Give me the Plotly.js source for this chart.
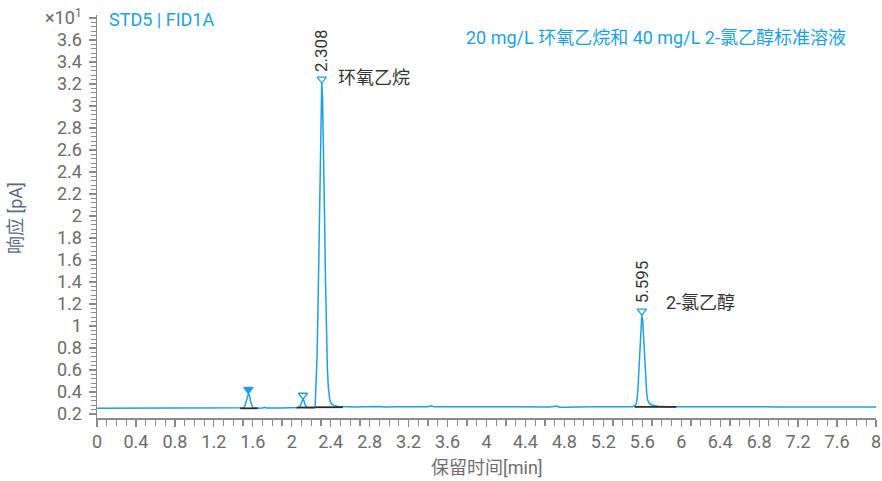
<!DOCTYPE html>
<html>
<head>
<meta charset="utf-8">
<script src="https://cdn.plot.ly/plotly-3.0.1.min.js"></script>
<style>html,body{margin:0;padding:0;background:#fff}#chart{width:882px;height:481px}</style>
</head>
<body>
<div id="chart"></div>
<script>
// Retention time [min]
const time = [0,0.5,1.0,1.45,1.49,1.51,1.53,1.545,1.555,1.565,1.58,1.60,1.63,1.67,1.70,1.72,1.74,1.78,1.82,1.88,1.95,2.02,2.07,2.09,2.105,2.115,2.125,2.14,2.16,2.19,2.22,2.24,2.25,2.26,2.27,2.28,2.29,2.30,2.308,2.316,2.326,2.336,2.346,2.356,2.366,2.376,2.39,2.41,2.44,2.48,2.55,2.65,2.75,2.8,2.85,2.9,2.95,3.0,3.1,3.3,3.40,3.43,3.46,3.6,4.0,4.4,4.65,4.72,4.75,4.8,4.9,5.0,5.06,5.08,5.10,5.3,5.50,5.535,5.545,5.555,5.565,5.575,5.585,5.595,5.605,5.615,5.625,5.635,5.645,5.655,5.67,5.69,5.72,5.76,5.85,6.0,6.5,7.0,7.5,8.0];
// Detector response [pA x10]
const signal = [0.252,0.252,0.252,0.252,0.252,0.258,0.304,0.369,0.388,0.369,0.304,0.258,0.253,0.253,0.255,0.262,0.255,0.253,0.256,0.256,0.258,0.259,0.259,0.278,0.321,0.336,0.321,0.278,0.260,0.258,0.259,0.262,0.46,0.73,1.19,1.84,2.54,3.06,3.21,3.09,2.66,2.05,1.44,0.94,0.61,0.44,0.33,0.29,0.275,0.268,0.265,0.264,0.266,0.268,0.264,0.268,0.265,0.267,0.266,0.266,0.266,0.274,0.266,0.266,0.265,0.265,0.265,0.272,0.262,0.261,0.263,0.265,0.266,0.271,0.266,0.266,0.266,0.286,0.329,0.425,0.595,0.817,1.018,1.10,1.036,0.872,0.672,0.498,0.389,0.328,0.30,0.285,0.276,0.270,0.267,0.266,0.265,0.265,0.265,0.265];

// Detected peaks
const peakTimes   = [1.555, 2.115, 2.308, 5.595];
const peakHeights = [0.388, 0.336, 3.21, 1.10];
const peakFilled  = [true, false, false, false];
const labelledTimes = ['2.308', '5.595'];
const labelledNames = ['环氧乙烷', '2-氯乙醇'];

// Integration baselines: [start, end] time and level
const baseStart = [1.47, 2.05, 2.245, 5.52];
const baseEnd   = [1.65, 2.245, 2.525, 5.95];
const baseLevel = [0.252, 0.259, 0.262, 0.266];

// Axis ticks
const xTickVals = [0,0.4,0.8,1.2,1.6,2,2.4,2.8,3.2,3.6,4,4.4,4.8,5.2,5.6,6,6.4,6.8,7.2,7.6,8];
const xTickText = ['0','0.4','0.8','1.2','1.6','2','2.4','2.8','3.2','3.6','4','4.4','4.8','5.2','5.6','6','6.4','6.8','7.2','7.6','8'];
const yTickVals = [0.2,0.4,0.6,0.8,1,1.2,1.4,1.6,1.8,2,2.2,2.4,2.6,2.8,3,3.2,3.4,3.6,3.8];
const yTickText = ['0.2','0.4','0.6','0.8','1','1.2','1.4','1.6','1.8','2','2.2','2.4','2.6','2.8','3','3.2','3.4','3.6','×10<sup>1</sup>'];

const FONT = 'Roboto, "Noto Sans CJK SC", sans-serif';
const BLUE = '#1ba1e2';
const GRAY = '#6b6b6b';

const traces = [];
traces.push({x: time, y: signal, type: 'scatter', mode: 'lines',
  line: {color: BLUE, width: 1.5}, hoverinfo: 'skip'});
for (let i = 0; i < baseStart.length; i++) {
  traces.push({x: [baseStart[i], baseEnd[i]], y: [baseLevel[i], baseLevel[i]],
    type: 'scatter', mode: 'lines', line: {color: '#2a2a2a', width: 1.8}, hoverinfo: 'skip'});
}
traces.push({x: peakTimes, y: peakHeights.map(h => h + 0.035), type: 'scatter', mode: 'markers',
  marker: {symbol: peakFilled.map(f => f ? 'triangle-down' : 'triangle-down-open'),
           size: 8, color: BLUE, line: {color: BLUE, width: 1.3}}, hoverinfo: 'skip'});

const annotations = [
  {xref: 'paper', yref: 'paper', x: 0.0128, y: 0.990, xanchor: 'left', yanchor: 'middle',
   text: 'STD5 | FID1A', showarrow: false, font: {family: FONT, size: 18, color: BLUE}},
  {xref: 'paper', yref: 'paper', x: 0.964, y: 0.945, xanchor: 'right', yanchor: 'middle',
   text: '20 mg/L 环氧乙烷和 40 mg/L 2-氯乙醇标准溶液', showarrow: false,
   font: {family: FONT, size: 18, color: BLUE}},
  // axis titles
  {xref: 'paper', yref: 'paper', x: -0.1053, y: 0.496, xanchor: 'center', yanchor: 'middle',
   textangle: -90, text: '响应 [pA]', showarrow: false, font: {family: FONT, size: 18, color: '#5a6a85'}},
  {xref: 'paper', yref: 'paper', x: 0.5, y: -0.124, xanchor: 'center', yanchor: 'middle',
   text: '保留时间[min]', showarrow: false, font: {family: FONT, size: 18, color: '#6e6e6e'}}
];
const idxLabelled = [2, 3];
const nameShift = [[14, 5], [22, 13]];
const numShift = [9, 10];
idxLabelled.forEach((pi, k) => {
  annotations.push({x: peakTimes[pi], y: peakHeights[pi], xref: 'x', yref: 'y',
    text: labelledTimes[k], showarrow: false, textangle: -90, xanchor: 'center', yanchor: 'bottom',
    yshift: numShift[k], font: {family: FONT, size: 17, color: '#333'}});
  annotations.push({x: peakTimes[pi], y: peakHeights[pi], xref: 'x', yref: 'y',
    text: labelledNames[k], showarrow: false, xanchor: 'left', yanchor: 'middle',
    xshift: nameShift[k][0], yshift: nameShift[k][1], font: {family: FONT, size: 18, color: '#333'}});
});

const layout = {
  width: 882, height: 481,
  margin: {l: 97, r: 6, t: 15, b: 63},
  paper_bgcolor: '#fff', plot_bgcolor: '#fff',
  showlegend: false,
  font: {family: FONT, size: 18, color: GRAY},
  xaxis: {
    range: [0, 8], showgrid: false, zeroline: false,
    showline: true, linecolor: '#8a8a8a', linewidth: 1.5,
    tickmode: 'array', tickvals: xTickVals, ticktext: xTickText,
    ticks: 'outside', ticklen: 7, tickwidth: 1.2, tickcolor: '#8a8a8a',
    minor: {dtick: 0.1, tick0: 0, ticks: 'outside', ticklen: 6, tickwidth: 1.2, tickcolor: '#8a8a8a', showgrid: false},
    tickfont: {family: FONT, size: 18, color: GRAY}
  },
  yaxis: {
    range: [0.164, 3.827], showgrid: false, zeroline: false,
    showline: true, linecolor: '#8a8a8a', linewidth: 1.5,
    tickmode: 'array', tickvals: yTickVals, ticktext: yTickText,
    ticks: 'outside', ticklen: 7, tickwidth: 1.2, tickcolor: '#8a8a8a', ticklabelstandoff: 3,
    minor: {dtick: 0.04, tick0: 0.2, ticks: 'outside', ticklen: 5, tickwidth: 1.2, tickcolor: '#8a8a8a', showgrid: false},
    tickfont: {family: FONT, size: 18, color: GRAY}
  },
  annotations: annotations
};

Plotly.newPlot('chart', traces, layout, {staticPlot: true, displayModeBar: false});
</script>
</body>
</html>
